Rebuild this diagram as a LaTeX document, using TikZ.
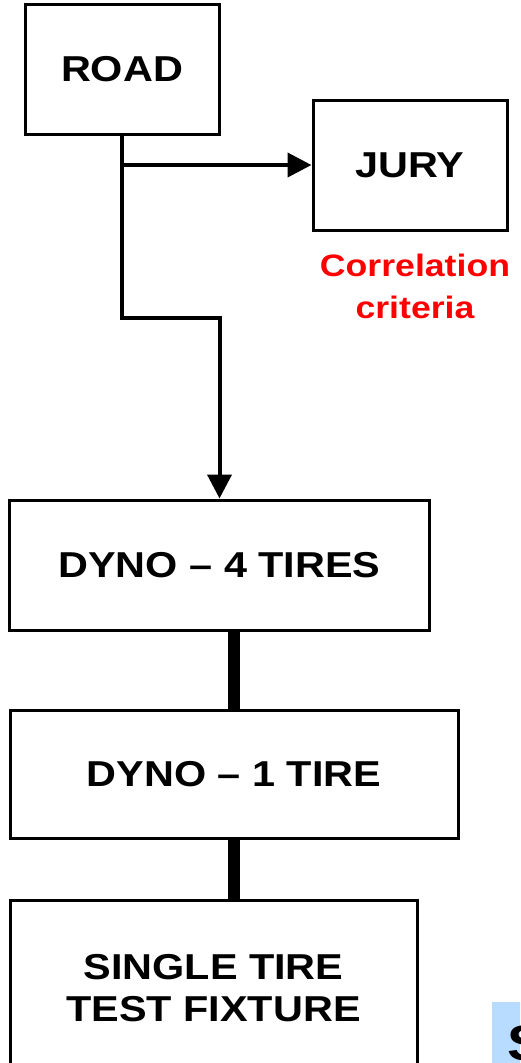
\documentclass[tikz,border=0pt]{standalone}
\usepackage{fontspec}
\newfontfamily\boxfont{Liberation Sans}[FakeStretch=1.15]
\usepackage{tikz}
\usetikzlibrary{arrows.meta, calc}
\definecolor{panelblue}{RGB}{184,220,255}

\begin{document}
\begin{tikzpicture}[
    x = 1pt, y = -1pt,
    line width = 3pt,
    stage/.style = {rectangle,
      draw,
      inner sep = 0pt,
      align = center,
      font = \boxfont\bfseries\fontsize{36}{42}\selectfont},
    link/.style = {line width = 4pt,
      -{Triangle[length = 24pt, width = 24pt]}},
    bar/.style = {line width = 12pt}
    ]
    \clip (0, 0) rectangle (520, 1063);

    \node at (122, 69) [stage, name = ROAD,
      minimum width = 194pt, minimum height = 130pt] {ROAD};
    \node at (410, 165) [stage, name = JURY,
      minimum width = 194pt, minimum height = 130pt] {JURY};
    \node at (415, 286) [name = crit, align = center, text = red,
      font = \boxfont\bfseries\fontsize{31}{42}\selectfont]
      {Correlation\\criteria};
    \node at (219.5, 565) [stage, name = DYNOfour,
      minimum width = 420pt, minimum height = 130pt] {DYNO – 4 TIRES};
    \node at (234, 774) [stage, name = DYNOone,
      minimum width = 448pt, minimum height = 128pt] {DYNO – 1 TIRE};
    \node at (213.5, 988) [stage, name = fixture,
      minimum width = 407pt, minimum height = 176pt]
      {SINGLE TIRE\\TEST FIXTURE};

    % cut-off panel in the corner
    \node at (490, 1000) [anchor = north west, name = corner,
      fill = panelblue, minimum width = 60pt, minimum height = 80pt,
      inner sep = 0pt] {};
    \node at (506, 1024) [anchor = north west, name = cornertext,
      inner sep = 0pt, font = \boxfont\bfseries\fontsize{50}{50}\selectfont] {S};

    \coordinate (split) at (ROAD.south |- JURY.west);
    \coordinate (bend) at (122, 318);

    \draw [link] (split) -- (JURY.west);
    \draw [link] (ROAD.south) -- (bend) -| (DYNOfour.north);

    \draw [bar] (DYNOfour.south -| DYNOone.north) -- (DYNOone.north);
    \draw [bar] (DYNOone.south) -- (DYNOone.south |- fixture.north);

  \end{tikzpicture}
\end{document}
